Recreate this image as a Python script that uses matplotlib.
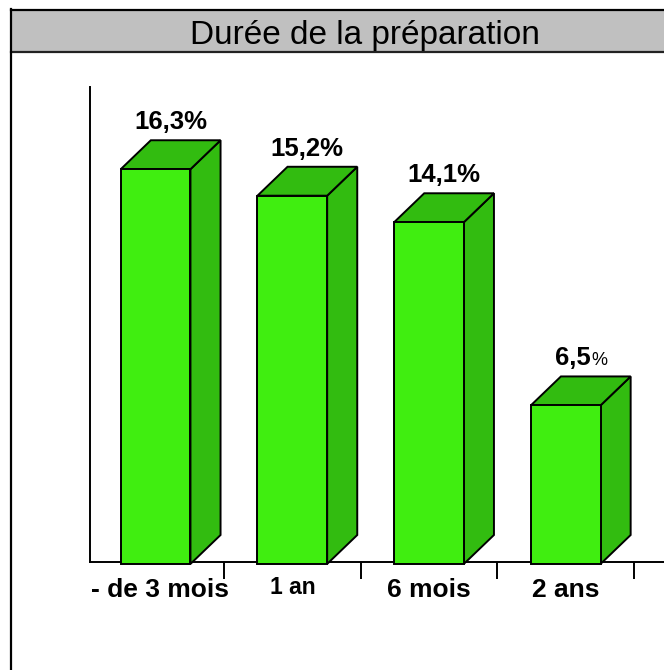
import matplotlib
matplotlib.use("Agg")
import matplotlib.pyplot as plt
import matplotlib.transforms as mtransforms
from matplotlib.patches import Polygon, Rectangle

# ===== DATA =====
categories   = ["- de 3 mois", "1 an", "6 mois", "2 ans"]
values       = [16.3, 15.2, 14.1, 6.5]
value_texts  = ["16,3", "15,2", "14,1", "6,5"]
pct_is_bold  = [True, True, True, False]
title        = "Durée de la préparation"

# ===== STYLE =====
W, H     = 664, 670
DPI      = 100
FRONT    = "#40EE10"
SIDE     = "#32BC10"
FONT     = "Liberation Sans"
EDGE_LW  = 1.4
BAR_W    = 0.51      # category units
DX, DY   = 0.22, 1.2 # 3D depth (x units, y units)
YMAX     = 19.71
XMIN     = -0.48
XMAX     = XMIN + 574 / 136.7

plt.rcParams["font.family"] = [FONT, "DejaVu Sans"]


def fx(px):
    return px / W


def fy(py):
    return 1 - py / H


fig = plt.figure(figsize=(W / DPI, H / DPI), dpi=DPI)

# ===== FRAME + TITLE BAND =====
fig.patches.append(Rectangle((fx(11), fy(52)), 1, fy(10) - fy(52),
                             transform=fig.transFigure, facecolor="#C0C0C0",
                             edgecolor="none", zorder=0))
fig.add_artist(plt.Line2D([fx(11), 1], [fy(10), fy(10)], color="black", lw=1.6))
fig.add_artist(plt.Line2D([fx(11), 1], [fy(52), fy(52)], color="#222222", lw=1.6))
fig.add_artist(plt.Line2D([fx(11), fx(11)], [fy(9.3), 0], color="black", lw=1.6))
fig.text(fx(364.5), fy(44), title, ha="center", va="baseline",
         fontsize=24, color="black")

# ===== AXES =====
ax = fig.add_axes([fx(90), fy(562), 1 - fx(90), fy(87) - fy(562)])
ax.set_xlim(XMIN, XMAX)
ax.set_ylim(0, YMAX)
ax.set_facecolor("none")
for s in ["top", "right"]:
    ax.spines[s].set_visible(False)
ax.spines["left"].set_linewidth(EDGE_LW)
ax.spines["bottom"].set_linewidth(EDGE_LW)
ax.set_yticks([])
ax.set_xticks([i + 0.5 for i in range(len(categories))])
ax.set_xticklabels([])
ax.tick_params(axis="x", direction="out", length=12, width=EDGE_LW, color="black")

for i, v in enumerate(values):
    x0, x1 = i - BAR_W / 2, i + BAR_W / 2
    base = -0.08
    side = Polygon([(x1, base), (x1 + DX, base + DY), (x1 + DX, v + DY), (x1, v)],
                   closed=True, facecolor=SIDE, edgecolor="black", lw=EDGE_LW,
                   zorder=3, clip_on=False)
    top = Polygon([(x0, v), (x1, v), (x1 + DX, v + DY), (x0 + DX, v + DY)],
                  closed=True, facecolor=SIDE, edgecolor="black", lw=EDGE_LW,
                  zorder=3, clip_on=False)
    front = Rectangle((x0, base), BAR_W, v - base, facecolor=FRONT,
                      edgecolor="black", lw=EDGE_LW, zorder=4, clip_on=False)
    ax.add_patch(side)
    ax.add_patch(top)
    ax.add_patch(front)

# ===== VALUE LABELS =====
fig.canvas.draw()
renderer = fig.canvas.get_renderer()
for i, v in enumerate(values):
    cx = i + DX / 2
    if pct_is_bold[i]:
        ax.annotate(value_texts[i] + "%", xy=(cx, v + DY), xytext=(0, 11),
                    textcoords="offset pixels", ha="center", va="baseline",
                    fontsize=18.5, fontweight="bold", annotation_clip=False)
    else:
        # bold number, regular smaller percent sign
        t1 = ax.annotate(value_texts[i], xy=(cx, v + DY), xytext=(0, 11),
                         textcoords="offset pixels", ha="left", va="baseline",
                         fontsize=18.5, fontweight="bold", annotation_clip=False)
        t2 = ax.annotate("%", xy=(cx, v + DY), xytext=(0, 11),
                         textcoords="offset pixels", ha="left", va="baseline",
                         fontsize=13, annotation_clip=False)
        w1 = t1.get_window_extent(renderer).width
        w2 = t2.get_window_extent(renderer).width
        left = -(w1 + w2) / 2
        t1.set_position((left, 11))
        t2.set_position((left + w1 + 1, 11))

# ===== CATEGORY LABELS =====
cat_sizes = [19, 16.5, 19, 19]
cat_base  = [597, 594, 597, 597]
trans = mtransforms.blended_transform_factory(ax.transData, fig.transFigure)
for i, c in enumerate(categories):
    ax.text(i + (0.03 if i == 0 else 0), fy(cat_base[i]), c, transform=trans,
            ha="center", va="baseline", fontsize=cat_sizes[i], fontweight="bold")

fig.savefig("out.png", dpi=DPI)
